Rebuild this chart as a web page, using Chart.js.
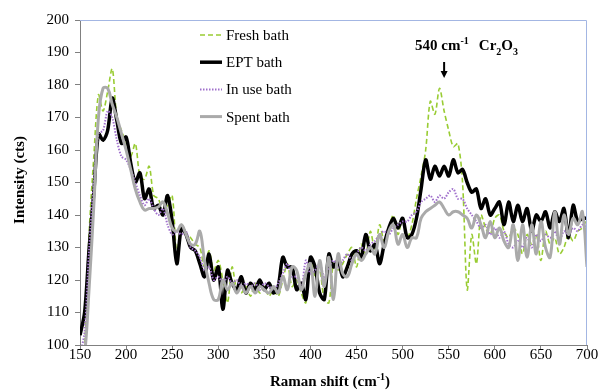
<!DOCTYPE html>
<html><head><meta charset="utf-8">
<script src="https://cdn.jsdelivr.net/npm/chart.js@4.4.0/dist/chart.umd.min.js"></script>
<style>html,body{margin:0;padding:0;background:#fff}#wrap{width:598px;height:390px;position:relative}</style>
</head><body><div id="wrap"><canvas id="c"></canvas></div>
<script>
// Raman shift (cm-1)
const ramanShift = [150,155,160,165,170,175,180,185,190,195,200,205,210,215,220,225,230,235,240,245,250,255,260,265,270,275,280,285,290,295,300,305,310,315,320,325,330,335,340,345,350,355,360,365,370,375,380,385,390,395,400,405,410,415,420,425,430,435,440,445,450,455,460,465,470,475,480,485,490,495,500,505,510,515,520,525,530,535,540,545,550,555,560,565,570,575,580,585,590,595,600,605,610,615,620,625,630,635,640,645,650,655,660,665,670,675,680,685,690,695,700];
const freshBath = [96,100,135,158,177,172,178,185,170,166,
162,158,162,152,151,155,146,145,141,143,
146,128,137,134,133,131,130,124,129,123,
126,120,113,124,117,116,118,115,119,116,
118,115,117,115,120,125,118,120,116,113,
126,121,123,114,113,125,123,125,128,130,
124,131,128,135,129,137,132,136,140,134,
139,133,137,145,152,160,175,171,179,172,
166,161,162,150,117,134,125,140,136,134,
139,140,135,133,136,134,128,134,131,134,
126,135,131,133,128,130,134,132,135,136,
139];
const eptBath = [103,110,130,147,165,163,166,176,169,162,
164,156,150,153,145,148,142,143,140,146,
138,125,136,134,130,129,125,121,128,120,
124,111,123,119,117,121,116,119,117,120,
117,119,116,118,127,124,124,117,119,114,
127,124,116,114,128,124,126,121,124,128,
129,127,134,129,131,125,131,136,139,136,
139,133,134,139,148,157,151,155,152,155,
152,157,153,154,150,147,148,142,145,140,
142,144,137,144,138,143,138,142,135,140,
138,141,136,141,138,142,133,143,138,139,
139];
const inUseBath = [97,104,130,150,165,166,172,170,163,158,
157,154,150,146,143,145,142,140,142,137,
134,135,134,135,130,129,127,123,124,120,
121,119,121,119,120,118,119,118,119,117,
119,118,117,119,122,125,121,121,117,126,
122,123,125,121,124,126,124,126,128,126,
128,130,129,131,132,134,135,134,136,137,
138,138,140,141,144,145,146,144,146,145,
147,148,145,145,142,140,138,136,137,134,
136,133,135,131,130,132,130,133,130,134,
132,134,133,135,132,135,134,136,135,137,
136];
const spentBath = [90,97,118,143,170,179,179,174,170,165,
160,154,148,144,141.5,142,142,142.5,144,140.5,
136,135,137,134,131,131,135,126,119,114,
114,120,117,119,116,118,116,118,116,118,
117,116,118,116,121,117,124,123,117,122,
125,115,126,118,127,114,128,122,121,125,
128,126,128,130,128,134,130,135,137,131,
134,130,133,133,139,141,142,143,144,142,
140,141,141,140,139,136,140,137,133,138,
133,136,132,130,137,126,137,127,137,128,
138,130,127,141,131,140,134,139,137,141,
124];
const seriesNames = ['Fresh bath','EPT bath','In use bath','Spent bath'];
const yTicks = [100,110,120,130,140,150,160,170,180,190,200];
const xTicks = [150,200,250,300,350,400,450,500,550,600,650,700];
const peakPosition = 545;

const pts = arr => arr.map((v,i)=>({x: ramanShift[i], y: v}));
const SERIF = "'Liberation Serif','Times New Roman',serif";

const styles = [
  {borderColor:'#99cc33', borderWidth:1.6, borderDash:[5,3], order:4, tension:0.3},
  {borderColor:'#000000', borderWidth:3.5, borderDash:[], order:3, tension:0.3},
  {borderColor:'#a070cc', borderWidth:2, borderDash:[1.5,1.5], order:2, tension:0.3},
  {borderColor:'#aaaaaa', borderWidth:3, borderDash:[], order:1, tension:0.4}
];
const seriesData = [freshBath, eptBath, inUseBath, spentBath];

function drawRich(ctx, parts, x, baseY) {
  let cx = x;
  for (const p of parts) {
    ctx.font = p.font;
    ctx.fillText(p.t, cx, baseY + (p.dy||0));
    cx += ctx.measureText(p.t).width + (p.gap||0);
  }
  return cx;
}
function richWidth(ctx, parts) {
  let w = 0;
  for (const p of parts) { ctx.font = p.font; w += ctx.measureText(p.t).width + (p.gap||0); }
  return w;
}

const decor = {
  id: 'decor',
  afterDraw(chart) {
    const {ctx, chartArea: a, scales: {x, y}} = chart;
    ctx.save();
    // top & right frame
    ctx.strokeStyle = '#a3b6e3'; ctx.lineWidth = 1; ctx.setLineDash([]);
    ctx.beginPath();
    ctx.moveTo(a.left, a.top + 0.5); ctx.lineTo(a.right - 0.5, a.top + 0.5); ctx.lineTo(a.right - 0.5, a.bottom);
    ctx.stroke();

    // legend
    const lx0 = 200, lx1 = 222, ly0 = 35, ldy = 27.2;
    ctx.textBaseline = 'middle'; ctx.textAlign = 'left'; ctx.fillStyle = '#000';
    chart.data.datasets.forEach((ds, i) => {
      const yy = ly0 + i * ldy;
      ctx.save();
      ctx.strokeStyle = ds.borderColor; ctx.lineWidth = ds.borderWidth;
      ctx.setLineDash(ds.borderDash || []);
      ctx.beginPath(); ctx.moveTo(lx0, yy); ctx.lineTo(lx1, yy); ctx.stroke();
      ctx.restore();
      ctx.font = '15px ' + SERIF;
      ctx.fillText(ds.label, 226, yy + 1);
    });

    // annotation
    ctx.textBaseline = 'alphabetic';
    const ax = x.getPixelForValue(peakPosition);
    const B = 'bold 15px ' + SERIF, S = 'bold 10px ' + SERIF;
    drawRich(ctx, [
      {t:'540 cm', font:B},
      {t:'-1', font:S, dy:-6, gap:10},
      {t:'Cr', font:B},
      {t:'2', font:S, dy:5},
      {t:'O', font:B},
      {t:'3', font:S, dy:5}
    ], ax - 29, 50);
    ctx.strokeStyle = '#000'; ctx.lineWidth = 2;
    ctx.beginPath(); ctx.moveTo(ax, 62); ctx.lineTo(ax, 72); ctx.stroke();
    ctx.beginPath(); ctx.moveTo(ax - 3.5, 71); ctx.lineTo(ax + 3.5, 71); ctx.lineTo(ax, 78); ctx.closePath(); ctx.fill();

    // x title
    const xt = [
      {t:'Raman shift (cm', font:B},
      {t:'-1', font:S, dy:-6},
      {t:')', font:B}
    ];
    const w = richWidth(ctx, xt);
    drawRich(ctx, xt, 330 - w/2, 386);

    // y title
    ctx.save();
    ctx.translate(20, 180); ctx.rotate(-Math.PI/2);
    ctx.font = B; ctx.textAlign = 'center'; ctx.textBaseline = 'middle';
    ctx.fillText('Intensity (cts)', 0, 0);
    ctx.restore();
    ctx.restore();
  }
};

new Chart(document.getElementById('c'), {
  type: 'line',
  data: {
    datasets: seriesNames.map((n,i)=>Object.assign({
      label: n, data: pts(seriesData[i]), pointRadius: 0, fill: false,
      borderCapStyle: 'butt', borderJoinStyle: 'round'
    }, styles[i]))
  },
  options: {
    responsive: true, maintainAspectRatio: false, animation: false,
    layout: {padding: {top: 20, right: 11, left: 0, bottom: 0}},
    plugins: {legend: {display: false}, tooltip: {enabled: false}},
    scales: {
      x: {
        type: 'linear', min: 150, max: 700,
        afterBuildTicks: s => { s.ticks = xTicks.map(v=>({value:v})); },
        afterFit: s => { s.height = 45; },
        grid: {drawOnChartArea: false, drawTicks: true, tickLength: 4, color: '#808080'},
        border: {display: true, color: '#808080', width: 1},
        ticks: {font: {family: SERIF, size: 15}, color: '#000', padding: -3, maxRotation: 0, autoSkip: false}
      },
      y: {
        min: 100, max: 200,
        afterBuildTicks: s => { s.ticks = yTicks.map(v=>({value:v})); },
        afterFit: s => { s.width = 80; },
        grid: {drawOnChartArea: false, drawTicks: true, tickLength: 5, color: '#808080'},
        border: {display: true, color: '#808080', width: 1},
        ticks: {font: {family: SERIF, size: 15}, color: '#000', padding: 6}
      }
    }
  },
  plugins: [decor]
});
</script>
</body></html>
